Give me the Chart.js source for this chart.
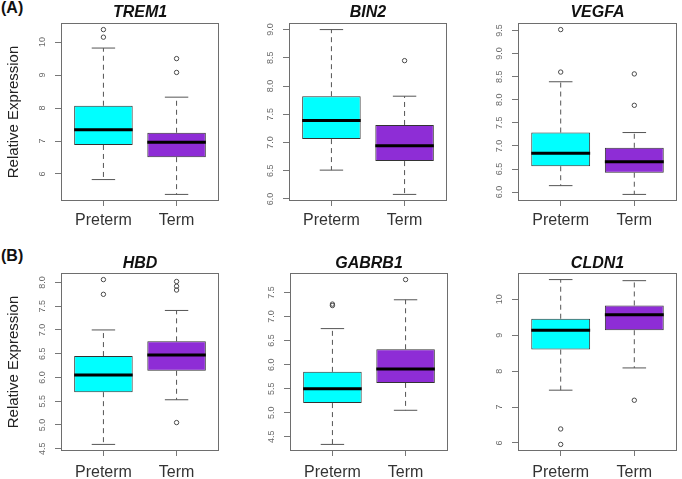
<!DOCTYPE html>
<html>
<head>
<meta charset="utf-8">
<script src="https://cdn.jsdelivr.net/npm/chart.js@4.4.0/dist/chart.umd.min.js"></script>
<style>
body { margin: 0; background: #fff; }
#wrap { position: relative; width: 682px; height: 479px; overflow: hidden; font-family: "Liberation Sans", Arial, sans-serif; }
#wrap canvas { position: absolute; }
.tag { position: absolute; font-weight: bold; font-size: 16px; color: #111; }
</style>
</head>
<body>
<div id="wrap">
  <div class="tag" style="left:1px;top:-1px">(A)</div>
  <div class="tag" style="left:1px;top:247px">(B)</div>
</div>
<script>
var groups = ['Preterm', 'Term'];
var genes = ['TREM1', 'BIN2', 'VEGFA', 'HBD', 'GABRB1', 'CLDN1'];

// [lower whisker, Q1, median, Q3, upper whisker]
var pretermStats = [
  [5.83, 6.88, 7.34, 8.07, 9.82],
  [6.51, 7.06, 7.39, 7.82, 9.00],
  [6.14, 6.56, 6.84, 7.29, 8.39],
  [4.59, 5.69, 6.05, 6.45, 7.00],
  [4.34, 5.20, 5.50, 5.85, 6.75],
  [7.47, 8.60, 9.14, 9.46, 10.55]
];
var termStats = [
  [5.38, 6.51, 6.96, 7.25, 8.33],
  [6.08, 6.67, 6.94, 7.31, 7.82],
  [5.95, 6.42, 6.66, 6.96, 7.29],
  [5.53, 6.14, 6.47, 6.76, 7.41],
  [5.05, 5.62, 5.91, 6.32, 7.35],
  [8.09, 9.14, 9.57, 9.83, 10.52]
];
var pretermOutliers = [[10.15, 10.38], [], [8.60, 9.52], [7.75, 8.06], [7.23, 7.26], [5.96, 6.39]];
var termOutliers = [[9.08, 9.50], [8.45], [7.88, 8.56], [5.05, 7.84, 7.92, 8.02], [7.77], [7.19]];

var yTicks = [
  [6, 7, 8, 9, 10],
  [6.0, 6.5, 7.0, 7.5, 8.0, 8.5, 9.0],
  [6.0, 6.5, 7.0, 7.5, 8.0, 8.5, 9.0, 9.5],
  [4.5, 5.0, 5.5, 6.0, 6.5, 7.0, 7.5, 8.0],
  [4.5, 5.0, 5.5, 6.0, 6.5, 7.0, 7.5],
  [6, 7, 8, 9, 10]
];
var tickDecimals = [0, 1, 1, 1, 1, 0];

// where each panel sits on the page
var panels = [
  {left: 0, top: 0, w: 227, padRight: 8},
  {left: 228, top: 0, w: 227, padRight: 8},
  {left: 457, top: 0, w: 225, padRight: 4},
  {left: 0, top: 250, w: 227, padRight: 8},
  {left: 229, top: 250, w: 227, padRight: 8},
  {left: 457, top: 250, w: 225, padRight: 4}
];

var fillColors = ['#00ffff', '#8e2dd6'];

Chart.defaults.font.family = '"Liberation Sans", Arial, sans-serif';

var framePlugin = {
  id: 'frame',
  afterDraw: function (chart) {
    var ctx = chart.ctx, a = chart.chartArea, ys = chart.scales.y;
    var dec = chart.options.plugins.frame.decimals;
    ctx.save();
    ctx.strokeStyle = '#6e6e6e';
    ctx.lineWidth = 1;
    ctx.strokeRect(Math.round(a.left) + 0.5, Math.round(a.top) + 0.5,
      Math.round(a.right - a.left) - 1, Math.round(a.bottom - a.top) - 1);
    ctx.fillStyle = '#6a6a6a';
    ctx.font = '9px "Liberation Sans", Arial, sans-serif';
    ctx.textAlign = 'center';
    ctx.textBaseline = 'middle';
    ys.ticks.forEach(function (t) {
      var y = ys.getPixelForValue(t.value);
      ctx.save();
      ctx.translate(a.left - 18, y);
      ctx.rotate(-Math.PI / 2);
      ctx.fillText(t.value.toFixed(dec), 0, 0);
      ctx.restore();
    });
    ctx.restore();
  }
};

function buildDatasets(g) {
  var stats = [pretermStats[g], termStats[g]];
  var outs = [pretermOutliers[g], termOutliers[g]];
  var boxes = [], whiskers = [], staples = [], medians = [], points = [];
  stats.forEach(function (s, k) {
    var x = k + 1;
    boxes.push({x: x, y: [s[1], s[3]]});
    whiskers.push({x: x, y: s[3]}, {x: x, y: s[4]}, {x: x, y: null},
                  {x: x, y: s[1]}, {x: x, y: s[0]}, {x: x, y: null});
    staples.push({x: x - 0.16, y: s[4]}, {x: x + 0.16, y: s[4]}, {x: x, y: null},
                 {x: x - 0.16, y: s[0]}, {x: x + 0.16, y: s[0]}, {x: x, y: null});
    medians.push({x: x - 0.4, y: s[2]}, {x: x + 0.4, y: s[2]}, {x: x, y: null});
    outs[k].forEach(function (v) { points.push({x: x, y: v}); });
  });
  return [
    {type: 'line', data: medians, borderColor: '#000', borderWidth: 3, pointRadius: 0, order: 0},
    {type: 'scatter', data: points, pointRadius: 2.2, borderColor: '#4a4a4a', borderWidth: 1,
     backgroundColor: 'rgba(0,0,0,0)', order: 1},
    {type: 'bar', data: boxes, backgroundColor: fillColors, borderColor: '#333', borderWidth: 1,
     borderSkipped: false, categoryPercentage: 1, barPercentage: 0.8, order: 2},
    {type: 'line', data: staples, borderColor: '#555', borderWidth: 1, pointRadius: 0, order: 3},
    {type: 'line', data: whiskers, borderColor: '#555', borderWidth: 1, borderDash: [5, 4], pointRadius: 0, order: 4}
  ];
}

function yRange(g) {
  var all = pretermStats[g].concat(termStats[g], pretermOutliers[g], termOutliers[g]);
  var lo = Math.min.apply(null, all), hi = Math.max.apply(null, all);
  var pad = (hi - lo) * 0.04;
  return [lo - pad, hi + pad];
}

genes.forEach(function (gene, g) {
  var p = panels[g];
  var topRow = g < 3;
  var cv = document.createElement('canvas');
  cv.width = p.w;
  cv.height = 229;
  cv.style.left = p.left + 'px';
  cv.style.top = p.top + 'px';
  document.getElementById('wrap').appendChild(cv);
  var range = yRange(g);

  new Chart(cv.getContext('2d'), {
    type: 'bar',
    data: {datasets: buildDatasets(g)},
    plugins: [framePlugin],
    options: {
      responsive: false,
      animation: false,
      layout: {padding: {left: 0, top: 0, bottom: 0, right: p.padRight}},
      plugins: {
        legend: {display: false},
        tooltip: {enabled: false},
        frame: {decimals: tickDecimals[g]},
        title: {
          display: true,
          text: gene,
          fullSize: false,
          color: '#111',
          font: {size: 16, weight: 'bold', style: 'italic', lineHeight: 1},
          padding: topRow ? {top: 5, bottom: 2} : {top: 6, bottom: 1}
        }
      },
      scales: {
        x: {
          type: 'linear',
          min: 0.42,
          max: 2.58,
          offset: false,
          afterBuildTicks: function (s) {
            s.ticks = groups.map(function (name, i) { return {value: i + 1}; });
          },
          afterFit: function (s) { s.height = 28; },
          grid: {drawOnChartArea: false, drawTicks: true, tickLength: 5, color: '#777', offset: false},
          border: {display: false},
          ticks: {
            padding: topRow ? 5 : 7,
            color: '#333',
            font: {size: 16},
            maxRotation: 0,
            autoSkip: false,
            callback: function (v) { return groups[v - 1]; }
          }
        },
        y: {
          min: range[0],
          max: range[1],
          beginAtZero: false,
          afterBuildTicks: function (s) {
            s.ticks = yTicks[g].map(function (v) { return {value: v}; });
          },
          afterFit: function (s) { s.width = 61; },
          grid: {drawOnChartArea: false, drawTicks: true, tickLength: 6, color: '#777'},
          border: {display: false},
          ticks: {display: false},
          title: {
            display: g % 3 === 0,
            text: 'Relative Expression',
            color: '#222',
            font: {size: 15},
            padding: {top: 5, bottom: 0}
          }
        }
      }
    }
  });
});
</script>
</body>
</html>
